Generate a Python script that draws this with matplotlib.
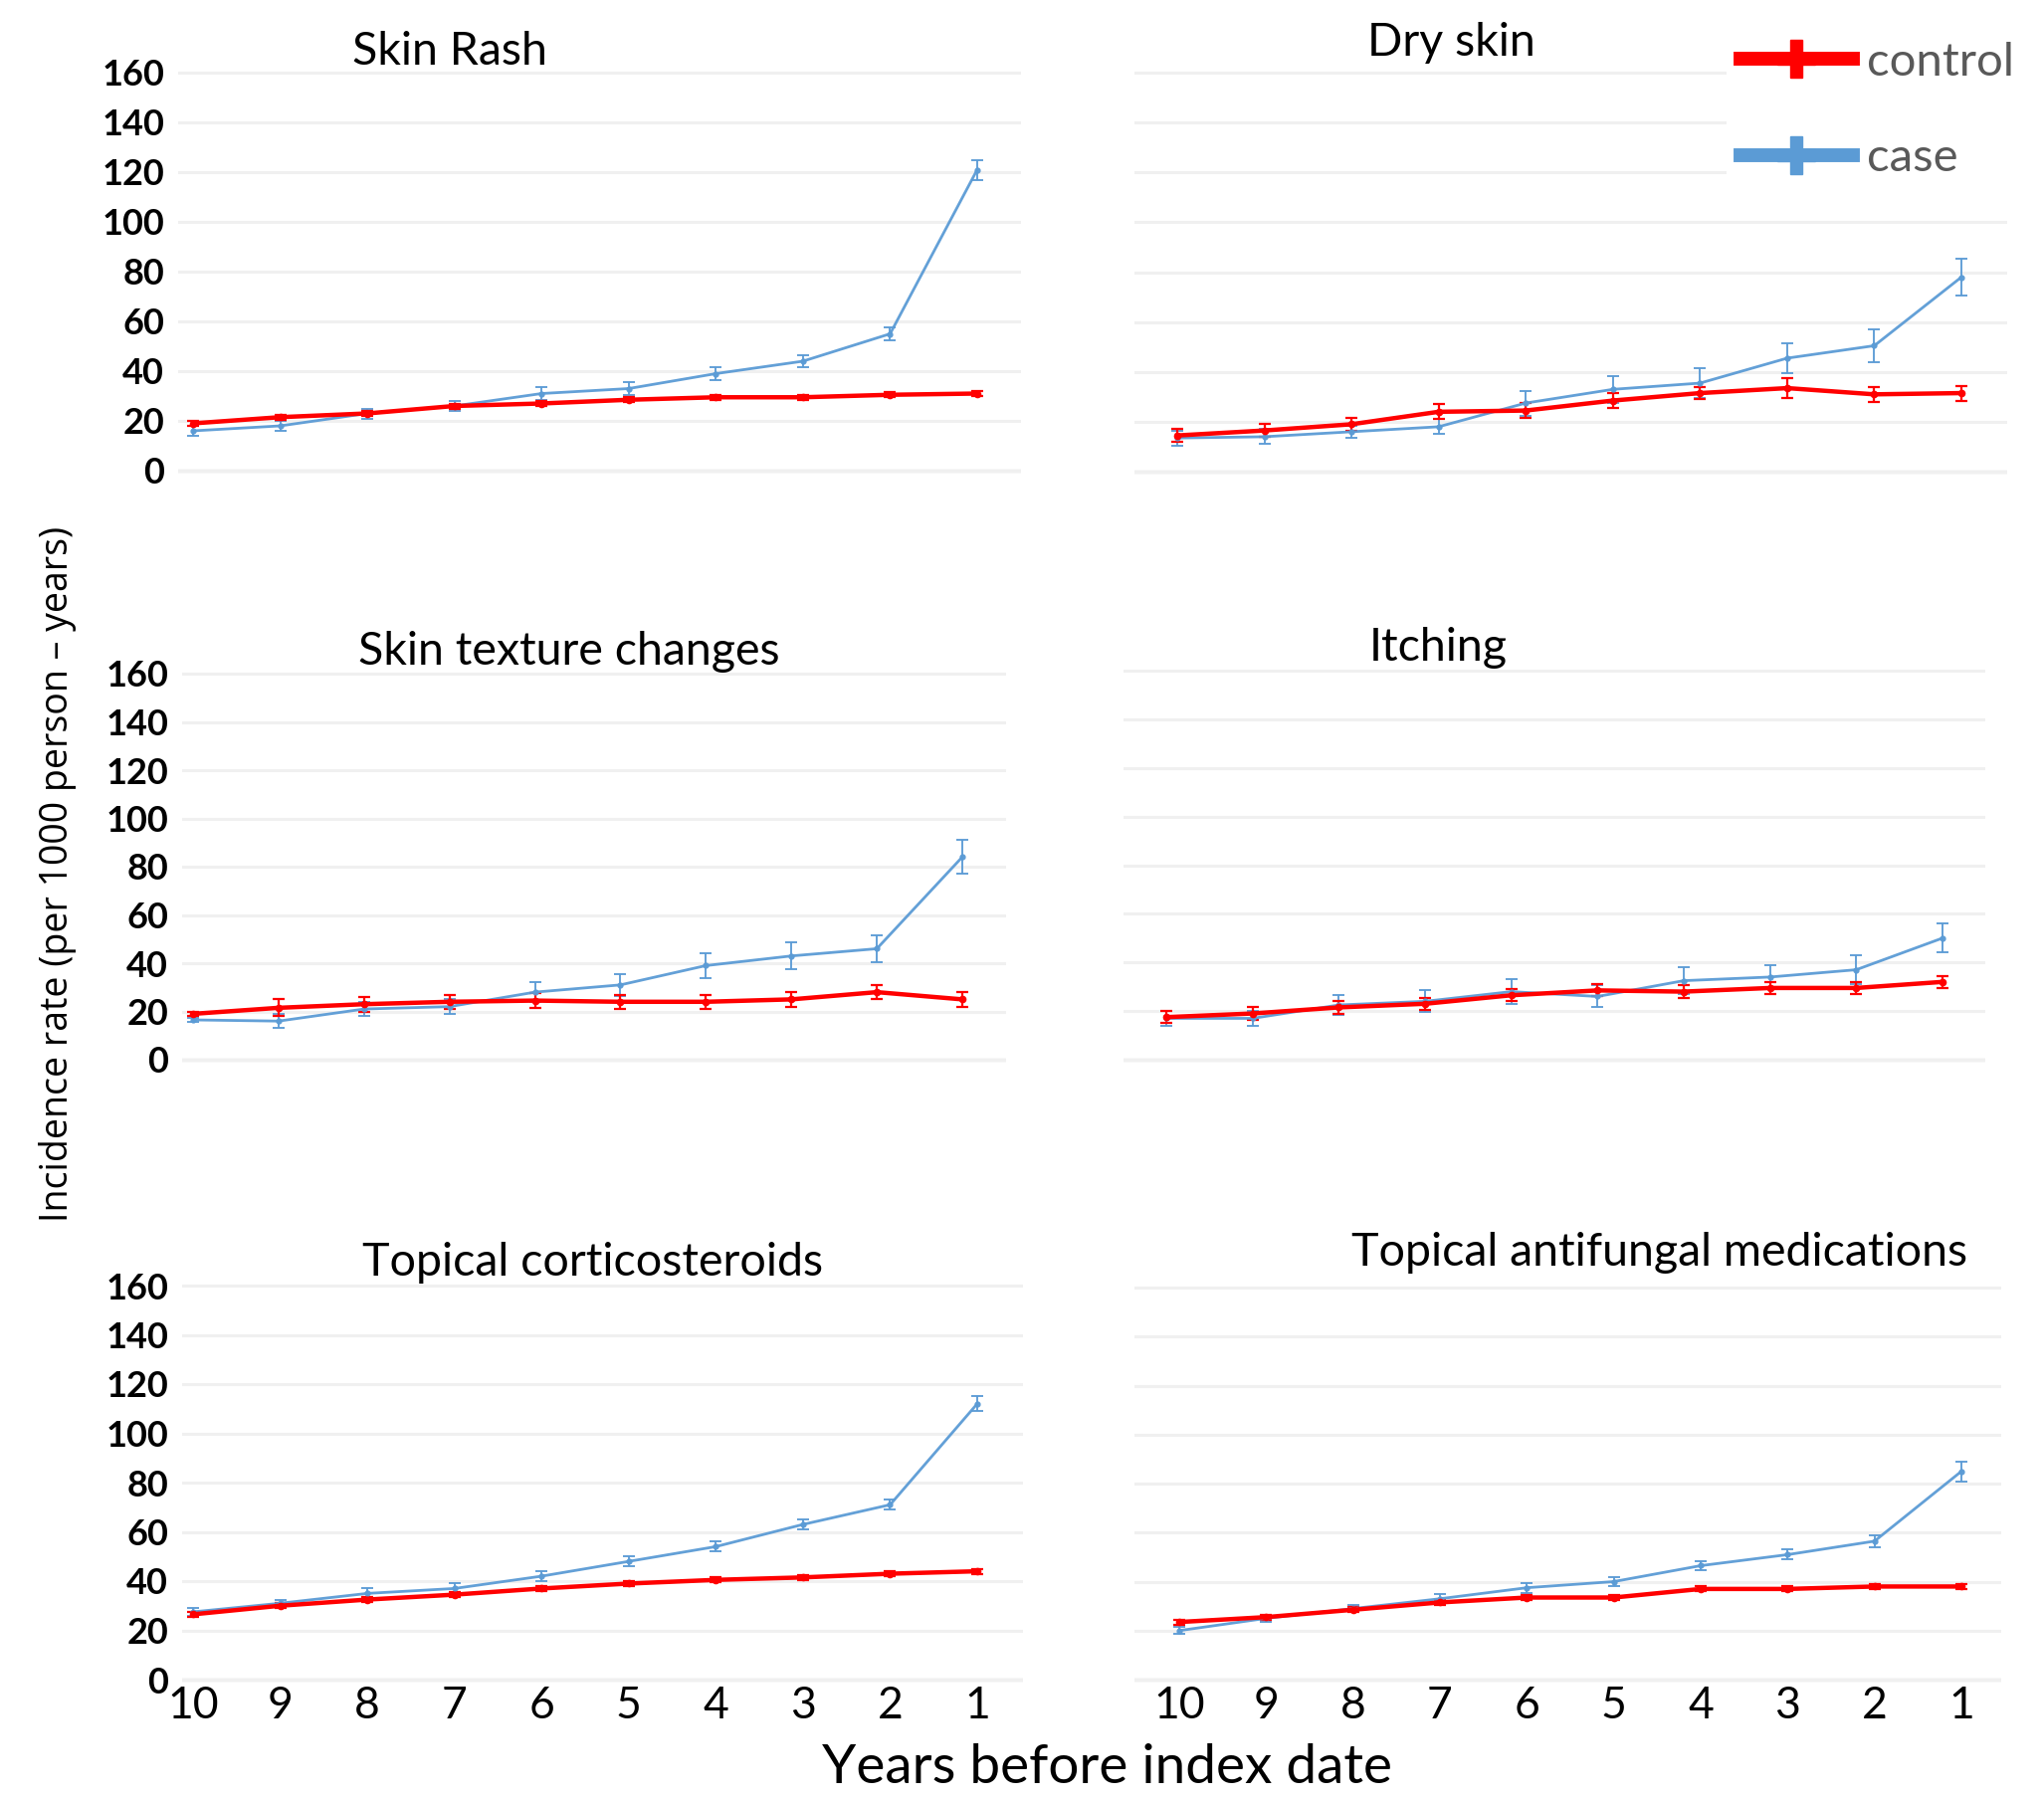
import matplotlib
matplotlib.use('Agg')
import matplotlib.pyplot as plt
from matplotlib.lines import Line2D

W, H = 2054, 1809

years = [10, 9, 8, 7, 6, 5, 4, 3, 2, 1]
y_ticks = [0, 20, 40, 60, 80, 100, 120, 140, 160]

titles = ['Skin Rash', 'Dry skin', 'Skin texture changes', 'Itching',
          'Topical corticosteroids', 'Topical antifungal medications']

skin_rash_case = [16, 18, 23, 26, 31, 33, 39, 44, 55, 121]
skin_rash_case_err = [2, 2, 2, 2, 2.5, 2.5, 2.5, 2.5, 2.5, 4]
skin_rash_control = [19, 21.5, 23, 26, 27, 28.5, 29.5, 29.5, 30.5, 31]
skin_rash_control_err = [1, 1, 1, 1, 1, 1, 1, 1, 1, 1]

dry_skin_case = [13.5, 14, 16, 18, 27.5, 33, 35.5, 45.5, 50.5, 78]
dry_skin_case_err = [3, 3, 2.5, 3, 5, 5.5, 6, 6, 6.5, 7.5]
dry_skin_control = [14.5, 16.5, 19, 24, 24.5, 28.5, 31.5, 33.5, 31, 31.5]
dry_skin_control_err = [2.5, 2.5, 2.5, 3, 3, 3, 2.5, 4, 3, 3]

texture_case = [16.5, 16, 21, 22, 28, 31, 39, 43, 46, 84]
texture_case_err = [1, 3, 3, 3, 4, 4.5, 5, 5.5, 5.5, 7]
texture_control = [19, 21.5, 23, 24, 24.5, 24, 24, 25, 28, 25]
texture_control_err = [1, 3.5, 3, 3, 3, 3, 3, 3, 3, 3]

itching_case = [17, 17, 22.5, 24, 28, 26, 32.5, 34, 37, 50]
itching_case_err = [3, 3, 4, 4.5, 5, 4.5, 5.5, 5, 6, 6]
itching_control = [17.5, 19, 21.5, 23, 26.5, 28.5, 28, 29.5, 29.5, 32]
itching_control_err = [2.5, 2.5, 2.5, 2.5, 2.5, 2.5, 2.5, 2.5, 2.5, 2.5]

cortico_case = [27.5, 31, 35, 37, 42, 48, 54, 63, 71, 112]
cortico_case_err = [1.5, 1.5, 2, 2, 2, 2, 2, 2, 2, 3]
cortico_control = [26.5, 30, 32.5, 34.5, 37, 39, 40.5, 41.5, 43, 44]
cortico_control_err = [1, 1, 1, 1, 1, 1, 1, 1, 1, 1]

antifungal_case = [20, 25, 29, 33, 37.5, 40, 46.5, 51, 56.5, 85]
antifungal_case_err = [1.5, 1.5, 1.5, 2, 2, 2, 2, 2, 2.5, 4]
antifungal_control = [23.5, 25.5, 28.5, 31.5, 33.5, 33.5, 37, 37, 38, 38]
antifungal_control_err = [1, 1, 1, 1, 1, 1, 1, 1, 1, 1]

case_series = [(skin_rash_case, skin_rash_case_err), (dry_skin_case, dry_skin_case_err),
               (texture_case, texture_case_err), (itching_case, itching_case_err),
               (cortico_case, cortico_case_err), (antifungal_case, antifungal_case_err)]
control_series = [(skin_rash_control, skin_rash_control_err),
                  (dry_skin_control, dry_skin_control_err),
                  (texture_control, texture_control_err),
                  (itching_control, itching_control_err),
                  (cortico_control, cortico_control_err),
                  (antifungal_control, antifungal_control_err)]

RED = '#ff0000'
BLUE = '#5b9bd5'

# panel layout in pixels: grid left, grid right, y=160 line, y=0 line, x of year 10, x of year 1
boxes = [(179, 1026, 73, 473, 194, 982),
         (1140, 2017, 73, 474, 1183, 1971),
         (183, 1011, 677, 1065, 194, 967),
         (1129, 1995, 674, 1065, 1172, 1952),
         (183, 1028, 1292, 1688, 194, 982),
         (1140, 2011, 1294, 1688, 1185, 1971)]
title_pos = [(452, 52), (1458, 43), (572, 655), (1445, 651), (596, 1269), (1668, 1259)]

fig = plt.figure(figsize=(W / 100, H / 100), dpi=100)


def add_panel(box):
    xl, xr, yt, yb, p10, p1 = box
    pad = 6
    ax = fig.add_axes([xl / W, 1 - (yb + pad) / H, (xr - xl) / W, (yb - yt + 2 * pad) / H])
    unit = (yb - yt) / 160
    ax.set_ylim(-pad / unit, 160 + pad / unit)
    step = (p1 - p10) / 9
    ax.set_xlim(10 + (p10 - xl) / step, 1 - (xr - p1) / step)
    for s in ax.spines.values():
        s.set_visible(False)
    ax.set_yticks(y_ticks)
    ax.grid(axis='y', color='#f0f0f0', lw=2.2)
    ax.axhline(0, color='#e2e2e2', lw=2.5, zorder=0.5)
    ax.set_axisbelow(True)
    ax.tick_params(length=0)
    return ax


for i, box in enumerate(boxes):
    ax = add_panel(box)
    case, case_err = case_series[i]
    ctrl, ctrl_err = control_series[i]
    ax.errorbar(years, case, yerr=case_err, color=BLUE, lw=2, marker='o', ms=3.5,
                capsize=4, elinewidth=1.4, capthick=1.4, alpha=0.95)
    ax.errorbar(years, ctrl, yerr=ctrl_err, color=RED, lw=3.2, marker='o', ms=4.5,
                capsize=4, elinewidth=1.6, capthick=1.6)
    if i % 2 == 0:
        ax.set_yticklabels([str(t) for t in y_ticks], fontsize=26,
                           fontweight='bold', family='Lato')
        ax.tick_params(axis='y', pad=10)
    else:
        ax.set_yticklabels([])
    if i >= 4:
        ax.set_xticks(years)
        ax.set_xticklabels([str(y) for y in years], fontsize=32, family='Lato')
        ax.tick_params(axis='x', pad=0)
    else:
        ax.set_xticks([])
    tx, ty = title_pos[i]
    fig.text(tx / W, 1 - ty / H, titles[i], ha='center', va='center',
             fontsize=33.5, family='Lato')

fig.text(58 / W, 1 - 878 / H, 'Incidence rate (per 1000 person \u2013 years)',
         rotation=90, ha='center', va='center', fontsize=27, family='Open Sans')
fig.text(1113 / W, 1 - 1777 / H, 'Years before index date', ha='center',
         va='center', fontsize=39.5, family='Lato')

handles = [Line2D([], [], color=RED, lw=10, marker='P', ms=28),
           Line2D([], [], color=BLUE, lw=10, marker='P', ms=28)]
fig.legend(handles, ['control', 'case'], loc='upper left',
           bbox_to_anchor=(1711 / W, 1 - 4 / H), frameon=True, facecolor='white',
           edgecolor='none', framealpha=1, handlelength=2.4, labelspacing=1.15,
           handletextpad=0.3, borderpad=0.3, labelcolor='#595959',
           prop={'family': 'Lato', 'size': 34})

fig.savefig('out.png', dpi=100, facecolor='white')
